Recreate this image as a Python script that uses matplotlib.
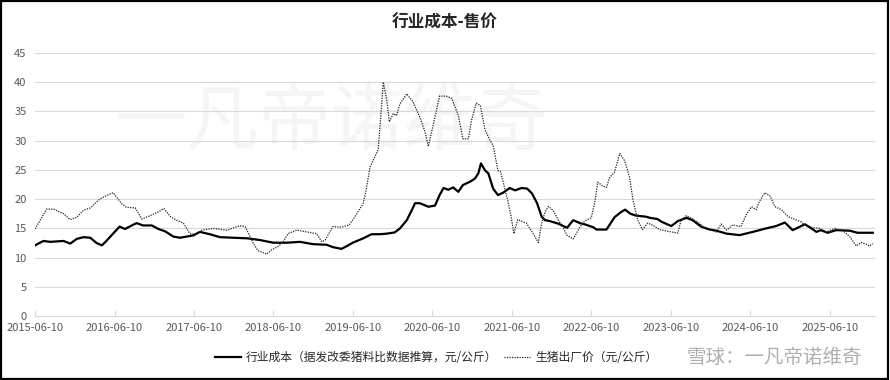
import pandas as pd
import matplotlib
matplotlib.use('Agg')
import matplotlib.pyplot as plt
from matplotlib.patches import Rectangle

plt.rcParams['font.family'] = ['Noto Sans CJK SC', 'DejaVu Sans']

# 行业成本 (solid line)
cost_dates = [
    '2015-06-10', '2015-07-19', '2015-08-19', '2015-10-19', '2015-11-19', '2015-12-19',
    '2016-01-19', '2016-02-19', '2016-03-19', '2016-04-13', '2016-05-03', '2016-06-03',
    '2016-07-03', '2016-07-28', '2016-08-28', '2016-09-19', '2016-10-19', '2016-11-28',
    '2016-12-28', '2017-01-28', '2017-03-07', '2017-04-07', '2017-05-07', '2017-06-07',
    '2017-07-07', '2017-08-22', '2017-10-07', '2017-12-07', '2018-02-10', '2018-04-10',
    '2018-06-10', '2018-08-10', '2018-10-10', '2018-12-10', '2019-02-10', '2019-03-10',
    '2019-04-19', '2019-05-10', '2019-06-10', '2019-07-28', '2019-09-04', '2019-10-13',
    '2019-11-13', '2019-12-19', '2020-01-13', '2020-02-13', '2020-03-07', '2020-03-22',
    '2020-04-13', '2020-05-22', '2020-06-22', '2020-07-13', '2020-07-31', '2020-08-22',
    '2020-09-13', '2020-10-07', '2020-10-28', '2020-12-01', '2020-12-22', '2021-01-07',
    '2021-01-19', '2021-02-07', '2021-02-22', '2021-03-16', '2021-04-07', '2021-05-01',
    '2021-05-31', '2021-06-25', '2021-07-25', '2021-08-19', '2021-09-10', '2021-10-04',
    '2021-10-25', '2021-11-10', '2021-12-01', '2022-01-10', '2022-02-19', '2022-03-19',
    '2022-04-19', '2022-05-10', '2022-06-19', '2022-07-04', '2022-08-19', '2022-09-25',
    '2022-10-25', '2022-11-13', '2022-12-07', '2022-12-31', '2023-02-16', '2023-03-07',
    '2023-04-10', '2023-05-01', '2023-06-13', '2023-07-13', '2023-08-22', '2023-09-19',
    '2023-10-28', '2023-12-07', '2024-01-07', '2024-02-22', '2024-04-22', '2024-06-22',
    '2024-08-22', '2024-10-07', '2024-11-16', '2024-12-22', '2025-01-25', '2025-02-16',
    '2025-03-10', '2025-04-10', '2025-05-01', '2025-05-31', '2025-07-10', '2025-09-10',
    '2025-10-16', '2025-12-25',
]
cost_values = [
    12.1, 12.85, 12.7, 12.85, 12.4, 13.2,
    13.5, 13.4, 12.5, 12.1, 12.85, 14.1,
    15.3, 14.9, 15.5, 15.9, 15.5, 15.5,
    14.9, 14.5, 13.6, 13.4, 13.6, 13.8,
    14.4, 14.0, 13.5, 13.4, 13.3, 13.0,
    12.55, 12.55, 12.7, 12.3, 12.2, 11.8,
    11.5, 11.9, 12.55, 13.3, 14.0, 14.0,
    14.1, 14.3, 15.0, 16.4, 18.1, 19.3,
    19.3, 18.7, 18.9, 20.7, 21.9, 21.6,
    22.0, 21.25, 22.4, 23.0, 23.5, 24.4,
    26.1, 24.9, 24.4, 21.8, 20.7, 21.1,
    21.9, 21.5, 21.9, 21.8, 21.0, 19.3,
    17.0, 16.4, 16.25, 15.8, 15.1, 16.4,
    15.9, 15.7, 15.2, 14.8, 14.8, 16.9,
    17.8, 18.2, 17.5, 17.2, 17.0, 16.8,
    16.6, 16.1, 15.4, 16.25, 16.8, 16.4,
    15.3, 14.8, 14.6, 14.1, 13.85, 14.4,
    15.0, 15.4, 16.0, 14.7, 15.3, 15.7,
    15.2, 14.4, 14.7, 14.25, 14.7, 14.6,
    14.25, 14.25,
]

# 生猪出厂价 (dotted line)
price_dates = [
    '2015-06-10', '2015-08-03', '2015-09-03', '2015-10-19', '2015-11-19', '2015-12-19',
    '2016-01-19', '2016-02-19', '2016-04-03', '2016-05-03', '2016-06-03', '2016-07-13',
    '2016-08-03', '2016-09-13', '2016-10-13', '2016-11-22', '2016-12-28', '2017-01-22',
    '2017-02-22', '2017-03-22', '2017-04-22', '2017-05-22', '2017-06-22', '2017-07-16',
    '2017-09-07', '2017-11-07', '2018-01-07', '2018-01-31', '2018-03-10', '2018-03-31',
    '2018-05-10', '2018-05-31', '2018-07-01', '2018-07-25', '2018-08-16', '2018-09-25',
    '2018-11-10', '2018-12-25', '2019-01-19', '2019-02-03', '2019-03-10', '2019-04-19',
    '2019-05-25', '2019-06-25', '2019-07-28', '2019-08-10', '2019-08-28', '2019-09-19',
    '2019-10-04', '2019-10-13', '2019-10-28', '2019-11-13', '2019-11-25', '2019-12-13',
    '2019-12-28', '2020-01-13', '2020-02-13', '2020-03-13', '2020-04-13', '2020-05-07',
    '2020-05-22', '2020-06-13', '2020-07-13', '2020-08-13', '2020-09-07', '2020-10-07',
    '2020-10-28', '2020-11-22', '2020-12-07', '2020-12-28', '2021-01-16', '2021-02-07',
    '2021-03-01', '2021-03-16', '2021-04-07', '2021-04-19', '2021-05-22', '2021-06-07',
    '2021-06-19', '2021-07-07', '2021-07-31', '2021-08-16', '2021-09-16', '2021-10-10',
    '2021-10-25', '2021-11-10', '2021-11-25', '2021-12-16', '2022-01-10', '2022-01-31',
    '2022-02-19', '2022-03-19', '2022-04-19', '2022-05-10', '2022-06-10', '2022-06-25',
    '2022-07-10', '2022-08-03', '2022-08-19', '2022-09-03', '2022-09-25', '2022-10-19',
    '2022-11-10', '2022-12-03', '2022-12-19', '2023-01-10', '2023-01-31', '2023-02-25',
    '2023-03-22', '2023-04-19', '2023-05-28', '2023-07-13', '2023-07-28', '2023-08-22',
    '2023-09-19', '2023-10-22', '2023-11-19', '2023-12-07', '2024-01-07', '2024-01-28',
    '2024-02-22', '2024-03-22', '2024-04-28', '2024-05-22', '2024-06-16', '2024-07-07',
    '2024-07-22', '2024-08-16', '2024-09-10', '2024-10-01', '2024-10-31', '2024-12-01',
    '2025-01-01', '2025-01-31', '2025-02-16', '2025-03-10', '2025-04-25', '2025-05-25',
    '2025-07-04', '2025-08-10', '2025-09-10', '2025-10-10', '2025-11-03', '2025-11-25',
    '2025-12-10', '2025-12-25',
]
price_values = [
    14.9, 18.3, 18.3, 17.5, 16.5, 16.9,
    18.1, 18.5, 20.0, 20.6, 21.1, 19.2,
    18.6, 18.5, 16.6, 17.2, 17.8, 18.4,
    17.0, 16.4, 15.9, 14.1, 14.0, 14.7,
    15.0, 14.7, 15.45, 15.3, 12.4, 11.2,
    10.6, 11.3, 11.9, 12.7, 14.1, 14.7,
    14.4, 14.1, 12.7, 13.0, 15.3, 15.2,
    15.6, 17.3, 19.3, 21.5, 25.5, 27.2,
    28.4, 32.3, 40.0, 36.9, 33.2, 34.6,
    34.3, 36.3, 38.0, 36.6, 34.0, 31.5,
    29.0, 32.6, 37.6, 37.6, 37.2, 34.3,
    30.3, 30.3, 33.5, 36.4, 36.0, 31.8,
    30.1, 29.2, 24.9, 24.7, 19.8, 17.0,
    14.1, 16.5, 16.1, 15.9, 14.1, 12.6,
    15.9, 17.8, 18.75, 18.1, 16.4, 15.2,
    13.8, 13.2, 15.2, 16.25, 16.8, 19.2,
    22.9, 22.2, 22.0, 23.75, 24.6, 27.8,
    26.6, 23.75, 19.8, 16.4, 14.8, 15.9,
    15.5, 14.8, 14.5, 14.2, 16.4, 17.2,
    16.6, 15.8, 14.9, 14.8, 14.4, 15.75,
    14.7, 15.6, 15.3, 17.3, 18.7, 18.2,
    19.6, 21.1, 20.5, 18.7, 18.2, 17.0,
    16.55, 16.1, 15.6, 15.2, 15.0, 14.4,
    15.0, 14.6, 13.6, 12.0, 12.6, 12.3,
    12.0, 12.4,
]

tick_labels = ['2015-06-10', '2016-06-10', '2017-06-10', '2018-06-10', '2019-06-10', '2020-06-10',
               '2021-06-10', '2022-06-10', '2023-06-10', '2024-06-10', '2025-06-10']
y_ticks = [0, 5, 10, 15, 20, 25, 30, 35, 40, 45]

cost_label = '行业成本（据发改委猪料比数据推算，元/公斤）'
price_label = '生猪出厂价（元/公斤）'

fig = plt.figure(figsize=(8.9, 3.8), dpi=100)
ax = fig.add_axes([0.0393, 0.168, 0.944, 0.693])

grey_txt = '#595959'

ax.plot(pd.to_datetime(cost_dates), cost_values, color='black', lw=1.6,
        label=cost_label, zorder=3)
ax.plot(pd.to_datetime(price_dates), price_values, color='#222222', lw=0.9,
        linestyle=(0, (1, 1)), label=price_label, zorder=3)

ax.set_ylim(0, 45)
ax.set_yticks(y_ticks)
ax.set_xlim(pd.Timestamp('2015-06-10'), pd.Timestamp('2026-01-05'))
ax.set_xticks(pd.to_datetime(tick_labels))
ax.set_xticklabels(tick_labels)

ax.grid(axis='y', color='#d9d9d9', lw=0.8, zorder=1)
ax.set_axisbelow(True)
for s in ['top', 'right', 'left']:
    ax.spines[s].set_visible(False)
ax.spines['bottom'].set_color('#d9d9d9')
ax.tick_params(axis='y', length=0, labelsize=8, labelcolor=grey_txt, pad=6)
ax.tick_params(axis='x', direction='in', length=4, color='#d9d9d9',
               labelsize=8, labelcolor=grey_txt, pad=5)

# watermarks
ax.text(0.373, 0.676, '一凡帝诺维奇', transform=fig.transFigure, fontsize=52,
        color='#f5f5f5', ha='center', va='center', zorder=0)

fig.suptitle('行业成本-售价', x=0.5, y=0.965, fontsize=12, fontweight='bold',
             color='#262626')

fig.legend(loc='center', bbox_to_anchor=(0.49, 0.06), ncol=2, frameon=False,
           fontsize=8.5, handlelength=2.2, handletextpad=0.4, columnspacing=0.6,
           labelcolor='#262626')

fig.text(0.968, 0.06, '雪球：一凡帝诺维奇', fontsize=14, color='#a6a6a6',
         ha='right', va='center', alpha=0.9)

fig.patches.append(Rectangle((0.001, 0.002), 0.997, 0.995, transform=fig.transFigure,
                             fill=False, edgecolor='black', lw=1.6))

fig.savefig('out.png', dpi=100)
